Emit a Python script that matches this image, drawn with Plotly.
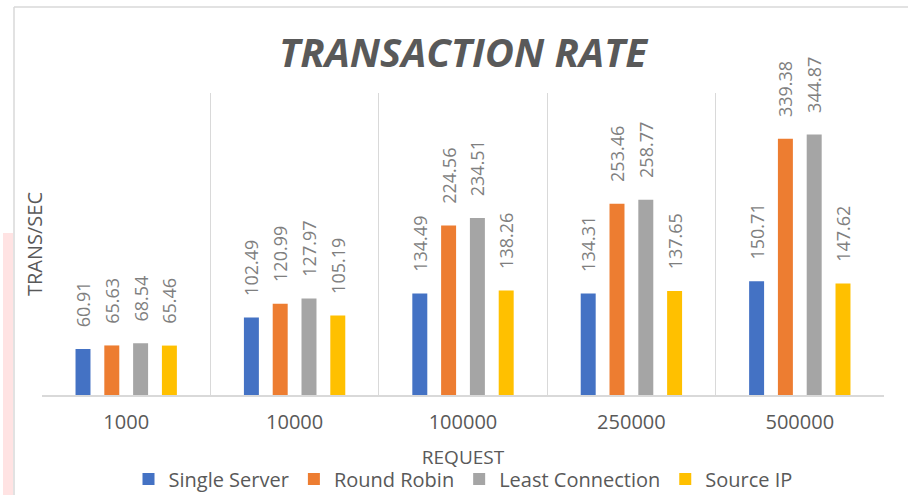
import plotly.graph_objects as go

categories = ["1000", "10000", "100000", "250000", "500000"]
series_names = ["Single Server", "Round Robin", "Least Connection", "Source IP"]
single_server = [60.91, 102.49, 134.49, 134.31, 150.71]
round_robin = [65.63, 120.99, 224.56, 253.46, 339.38]
least_connection = [68.54, 127.97, 234.51, 258.77, 344.87]
source_ip = [65.46, 105.19, 138.26, 137.65, 147.62]
colors = ["#4472C4", "#ED7D31", "#A5A5A5", "#FFC000"]

FONT = "Open Sans"
PAD = "\u00a0\u00a0\u00a0\u00a0"

fig = go.Figure()
for name, vals, col in zip(series_names, [single_server, round_robin, least_connection, source_ip], colors):
    fig.add_trace(go.Bar(
        x=categories, y=vals, name=name, marker=dict(color=col, line=dict(width=0)),
        text=[PAD + f"{v:.2f}" for v in vals], textposition="outside", textangle=-90,
        constraintext="none", cliponaxis=False,
        textfont=dict(family=FONT, size=18, color="#7f7f7f"),
    ))

L, R, T, B = 42, 24, 93, 100
W, H = 908, 495
pw, ph = W - L - R, H - T - B
def px(x):
    return (x - L) / pw
def py(y):
    return (H - B - y) / ph

shapes = [
    dict(type="rect", xref="paper", yref="paper", x0=px(3), x1=px(13), y0=py(495), y1=py(233),
         fillcolor="#ffe3e3", line=dict(width=0), layer="below"),
    dict(type="line", xref="paper", yref="paper", x0=px(14), x1=px(14), y0=py(495), y1=py(7),
         line=dict(color="#d9d9d9", width=1.5)),
    dict(type="line", xref="paper", yref="paper", x0=px(14), x1=px(908), y0=py(7), y1=py(7),
         line=dict(color="#d9d9d9", width=1.5)),
]

annotations = [
    dict(text="TRANS/SEC", xref="paper", yref="paper", x=px(34), y=0.5, xanchor="center", yanchor="middle",
         textangle=-90, showarrow=False, font=dict(family=FONT, size=20, color="#595959")),
]

fig.update_layout(
    width=W, height=H,
    margin=dict(l=L, r=R, t=T, b=B, autoexpand=False),
    paper_bgcolor="white", plot_bgcolor="white",
    barmode="group", bargap=0.316, bargroupgap=0.48,
    font=dict(family=FONT, color="#595959"),
    title=dict(text="TRANSACTION RATE", x=0.5, xref="paper", xanchor="center",
               y=1 - 53 / H, yanchor="middle",
               font=dict(family=FONT, size=40, weight="bold", style="italic", color="#595959")),
    xaxis=dict(type="category", tickson="boundaries", showgrid=True, gridcolor="#d9d9d9", gridwidth=1,
               showline=True, linecolor="#d9d9d9", linewidth=1.5, ticks="", zeroline=False,
               ticklabelstandoff=8,
               tickfont=dict(family=FONT, size=20, color="#595959"),
               title=dict(text="REQUEST", font=dict(family=FONT, size=19, color="#595959"), standoff=17)),
    yaxis=dict(range=[0, 400], showgrid=False, showticklabels=False, ticks="", zeroline=False,
               showline=False),
    legend=dict(orientation="h", x=0.5, xanchor="center", y=py(479), yanchor="middle",
                font=dict(family=FONT, size=20, color="#595959"), itemwidth=30, traceorder="normal"),
    shapes=shapes,
    annotations=annotations,
    showlegend=True,
)

fig.write_html("out.html", config={"displayModeBar": False},
               post_script="document.body.style.margin='0';document.body.style.overflow='hidden';")
